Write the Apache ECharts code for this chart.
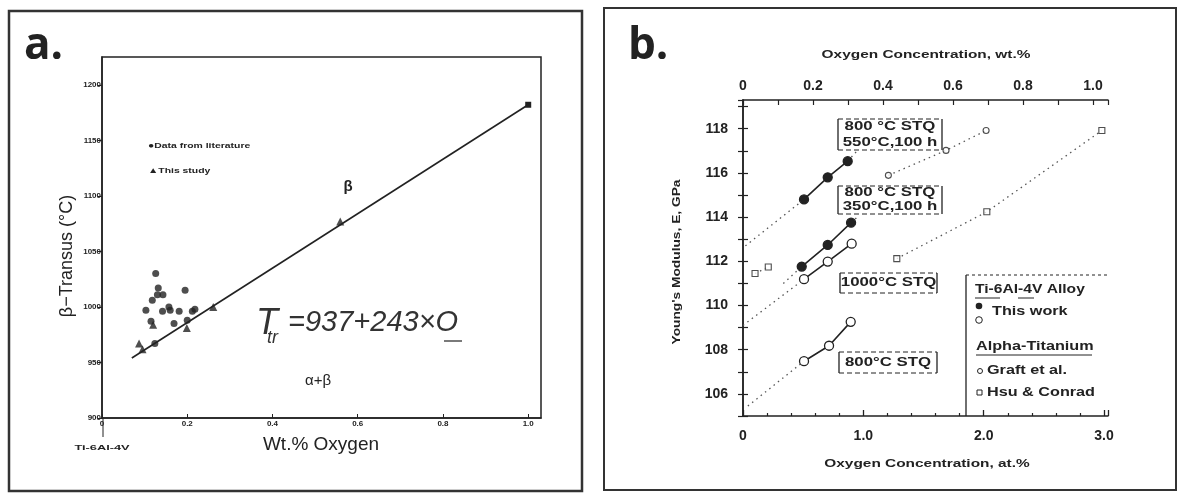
<!DOCTYPE html>
<html>
<head>
<meta charset="utf-8">
<script src="https://cdn.jsdelivr.net/npm/echarts@6/dist/echarts.min.js"></script>
<style>
  html, body { margin: 0; padding: 0; background: #fff; }
  #chart { width: 1179px; height: 494px; }
</style>
</head>
<body>
<div id="chart"></div>
<script>
// ---- panel a: beta transus vs wt.% oxygen ----
var litPoints = [[0.126,1030],[0.132,1017],[0.130,1011],[0.143,1011],[0.118,1006],[0.195,1015],
  [0.103,997],[0.142,996],[0.157,1000],[0.160,997],[0.181,996],[0.218,998],[0.212,996],
  [0.169,985],[0.200,988],[0.124,967],[0.115,987]];
var studyPoints = [[0.120,984],[0.199,981],[0.261,1000],[0.087,967],[0.095,962],[0.559,1077]];
var fitLine = [[0.07,954],[1.0,1182]];
var aXLabels = ['0','0.2','0.4','0.6','0.8','1.0'];
var aYLabels = ['900','950','1000','1050','1100','1150','1200'];

// ---- panel b: Young's modulus vs oxygen (at.%) ----
var b550 = [[0.507,114.80],[0.704,115.80],[0.870,116.53]];
var b350 = [[0.488,111.76],[0.704,112.74],[0.898,113.75]];
var b1000 = [[0.507,111.19],[0.704,111.99],[0.903,112.80]];
var b800 = [[0.507,107.48],[0.715,108.18],[0.895,109.26]];
var graft = [[1.208,115.89],[1.687,117.02],[2.020,117.92]];
var hsuLow = [[0.100,111.45],[0.210,111.74]];
var hsuHigh = [[1.278,112.12],[2.026,114.24],[2.982,117.92]];
// dotted guide lines
var guide550 = [[0.02,112.7],[0.507,114.80]];
var ext550 = [[0.870,116.53],[0.945,116.98]];
var guide350 = [[0.335,111.0],[0.488,111.76]];
var ext350 = [[0.898,113.75],[0.959,114.04]];
var guide1000 = [[0.0,109.1],[0.507,111.19]];
var guide800 = [[0.04,105.45],[0.507,107.48]];
var bBottomLabels = ['0','1.0','2.0','3.0'];
var bTopLabels = ['0','0.2','0.4','0.6','0.8','1.0'];
var bYLabels = {106:'106',108:'108',110:'110',112:'112',114:'114',116:'116',118:'118'};

var ink = '#222';
var sans = '"Liberation Sans", Arial, sans-serif';

function pick(arr, v, step) {
  var i = Math.round(v / step);
  return Math.abs(v - i * step) < 1e-6 ? (arr[i] || '') : '';
}

function txt(x, y, s, font, o) {
  o = o || {};
  return {
    type: 'text', x: x, y: y, rotation: o.rotation || 0, scaleX: o.scaleX || 1, z: 10,
    style: { text: s, font: font, fill: o.fill || ink, align: o.align || 'left', verticalAlign: o.va || 'middle' }
  };
}
function seg(x1, y1, x2, y2, w, dash) {
  return { type: 'line', z: 10, shape: { x1: x1, y1: y1, x2: x2, y2: y2 },
    style: { stroke: ink, lineWidth: w || 1, lineDash: dash || null } };
}
// dashed top/bottom, solid brackets at the sides
function boxLabel(x1, y1, x2, y2, lines) {
  var out = [
    seg(x1, y1, x2, y1, 1, [5, 3]), seg(x1, y2, x2, y2, 1, [5, 3]),
    seg(x1, y1, x1, y2, 1.3), seg(x2, y1, x2, y2, 1.3)
  ];
  var h = (y2 - y1) / lines.length;
  lines.forEach(function (s, i) {
    out.push(txt((x1 + x2) / 2, y1 + h * (i + 0.5), s, 'bold 12px ' + sans, { align: 'center', scaleX: 1.4 }));
  });
  return out;
}

function dotted(data) {
  return { type: 'line', xAxisIndex: 1, yAxisIndex: 1, data: data, symbol: 'none', silent: true, z: 2,
    lineStyle: { color: '#555', width: 1.3, type: [1.5, 4] } };
}
function linked(data, filled) {
  return { type: 'line', xAxisIndex: 1, yAxisIndex: 1, data: data, symbol: 'circle', symbolSize: 9, z: 3,
    itemStyle: { color: filled ? ink : '#fff', borderColor: ink, borderWidth: 1.3 },
    lineStyle: { color: ink, width: 1.6 } };
}
function small(data, symbol) {
  return { type: 'scatter', xAxisIndex: 1, yAxisIndex: 1, data: data, symbol: symbol, symbolSize: 6, z: 3,
    itemStyle: { color: '#fff', borderColor: ink, borderWidth: 1.1 } };
}

var graphics = [
  // panel frames
  { type: 'rect', shape: { x: 9, y: 11, width: 573, height: 480 }, style: { fill: 'none', stroke: '#333', lineWidth: 2.5 } },
  { type: 'rect', shape: { x: 604, y: 8, width: 572, height: 482 }, style: { fill: 'none', stroke: '#333', lineWidth: 2 } },
  txt(24, 46, 'a.', 'bold 44px "Open Sans", sans-serif'),
  txt(628, 46, 'b.', 'bold 44px "Open Sans", sans-serif'),
  // panel a texts
  txt(67, 256, 'β−Transus (°C)', '18px ' + sans, { align: 'center', rotation: Math.PI / 2 }),
  txt(321, 445, 'Wt.% Oxygen', '19px ' + sans, { align: 'center' }),
  seg(103, 418, 103, 437, 1),
  txt(102, 448, 'Ti-6Al-4V', 'bold 8px ' + sans, { align: 'center', scaleX: 1.6 }),
  txt(148, 146, '●Data from literature', 'bold 8px ' + sans, { scaleX: 1.3 }),
  txt(148, 171, '▲This study', 'bold 8px ' + sans, { scaleX: 1.3 }),
  txt(348, 187, 'β', 'bold 15px ' + sans, { align: 'center' }),
  txt(256, 324, 'T', 'italic 36px ' + sans, { fill: '#333' }),
  txt(267, 338, 'tr', 'italic 18px ' + sans, { fill: '#333' }),
  txt(288, 323, '=937+243×O', 'italic 29px ' + sans, { fill: '#333' }),
  seg(444, 341, 462, 341, 1.2),
  txt(318, 381, 'α+β', '15px ' + sans, { align: 'center' }),
  // panel b axis titles
  txt(926, 55, 'Oxygen Concentration, wt.%', 'bold 11px ' + sans, { align: 'center', scaleX: 1.4 }),
  txt(927, 464, 'Oxygen Concentration, at.%', 'bold 11px ' + sans, { align: 'center', scaleX: 1.4 }),
  txt(677, 262, "Young's Modulus, E, GPa", 'bold 11px ' + sans, { align: 'center', scaleX: 1.25, rotation: Math.PI / 2 }),
  // legend box of panel b
  seg(966, 275, 1108, 275, 1, [3, 3]),
  seg(966, 275, 966, 416, 1.3),
  txt(975, 290, 'Ti-6Al-4V Alloy', 'bold 12px ' + sans, { scaleX: 1.3 }),
  seg(975, 298, 1000, 298, 1), seg(1018, 298, 1034, 298, 1),
  { type: 'circle', z: 10, shape: { cx: 979, cy: 306, r: 3.3 }, style: { fill: ink } },
  { type: 'circle', z: 10, shape: { cx: 979, cy: 320, r: 3.3 }, style: { fill: '#fff', stroke: ink, lineWidth: 1 } },
  txt(992, 312, 'This work', 'bold 12px ' + sans, { scaleX: 1.35 }),
  txt(976, 347, 'Alpha-Titanium', 'bold 12px ' + sans, { scaleX: 1.35 }),
  seg(976, 355, 1092, 355, 1),
  { type: 'circle', z: 10, shape: { cx: 980, cy: 371, r: 2.5 }, style: { fill: '#fff', stroke: ink, lineWidth: 1 } },
  txt(987, 371, 'Graft et al.', 'bold 12px ' + sans, { scaleX: 1.35 }),
  { type: 'rect', z: 10, shape: { x: 977, y: 390, width: 5, height: 5 }, style: { fill: '#fff', stroke: ink, lineWidth: 1 } },
  txt(987, 393, 'Hsu & Conrad', 'bold 12px ' + sans, { scaleX: 1.35 })
]
.concat(boxLabel(838, 119, 942, 150, ['800 °C STQ', '550°C,100 h']))
.concat(boxLabel(838, 186, 942, 214, ['800 °C STQ', '350°C,100 h']))
.concat(boxLabel(840, 273, 937, 293, ['1000°C STQ']))
.concat(boxLabel(839, 352, 937, 373, ['800°C STQ']));

var axisLineStyle = { lineStyle: { color: ink, width: 1.5 } };

var option = {
  animation: false,
  backgroundColor: '#fff',
  grid: [
    { left: 102, top: 57, width: 439, height: 361, show: true, borderColor: ink, borderWidth: 1.5 },
    { left: 743, top: 100, width: 365, height: 316 }
  ],
  xAxis: [
    { type: 'value', gridIndex: 0, min: 0, max: 1.03, interval: 0.2, splitLine: { show: false },
      axisLine: axisLineStyle, axisTick: { inside: true, length: 4, lineStyle: { color: ink } },
      axisLabel: { margin: 2, fontSize: 8, fontWeight: 'bold', color: ink, fontFamily: sans, showMaxLabel: false,
        formatter: function (v) { return pick(aXLabels, v, 0.2); } } },
    { type: 'value', gridIndex: 1, position: 'bottom', min: 0, max: 3.033, interval: 1, splitLine: { show: false },
      axisLine: axisLineStyle, axisTick: { inside: true, length: 6, lineStyle: { color: ink, width: 1.3 } },
      minorTick: { show: true, splitNumber: 5, length: 3, lineStyle: { color: ink, width: 1.2 } },
      axisLabel: { margin: 13, fontSize: 14, fontWeight: 'bold', color: ink, fontFamily: sans, showMaxLabel: false,
        formatter: function (v) { return pick(bBottomLabels, v, 1); } } },
    { type: 'value', gridIndex: 1, position: 'top', min: 0, max: 1.043, interval: 0.2, splitLine: { show: false },
      axisLine: axisLineStyle, axisTick: { inside: true, length: 5, lineStyle: { color: ink, width: 1.2 } },
      minorTick: { show: true, splitNumber: 2, length: 5, lineStyle: { color: ink, width: 1.2 } },
      axisLabel: { margin: 7, fontSize: 14, fontWeight: 'bold', color: ink, fontFamily: sans, showMaxLabel: false,
        formatter: function (v) { return pick(bTopLabels, v, 0.2); } } }
  ],
  yAxis: [
    { type: 'value', gridIndex: 0, min: 900, max: 1225, interval: 50, splitLine: { show: false },
      axisLine: axisLineStyle, axisTick: { inside: false, length: 4, lineStyle: { color: ink } },
      axisLabel: { margin: 1, fontSize: 8, fontWeight: 'bold', color: ink, fontFamily: sans, showMaxLabel: false,
        formatter: function (v) { return pick(aYLabels, v - 900, 50); } } },
    { type: 'value', gridIndex: 1, position: 'left', min: 105, max: 119.3, interval: 1, splitLine: { show: false },
      axisLine: axisLineStyle, axisTick: { inside: true, length: 5, lineStyle: { color: ink, width: 1.2 } },
      axisLabel: { margin: 15, fontSize: 14, fontWeight: 'bold', color: ink, fontFamily: sans, showMaxLabel: false,
        formatter: function (v) { return bYLabels[v] || ''; } } },
    { type: 'value', gridIndex: 1, position: 'right', min: 105, max: 119.3, interval: 1, splitLine: { show: false },
      axisLine: axisLineStyle, axisTick: { inside: true, length: 5, lineStyle: { color: ink, width: 1.2 } },
      axisLabel: { show: false } }
  ],
  series: [
    { type: 'line', xAxisIndex: 0, yAxisIndex: 0, data: [
        { value: fitLine[0], symbol: 'none' },
        { value: fitLine[1], symbol: 'rect', symbolSize: 6 }],
      showSymbol: true, itemStyle: { color: ink }, lineStyle: { color: ink, width: 1.6 }, z: 2 },
    { type: 'scatter', xAxisIndex: 0, yAxisIndex: 0, data: litPoints, symbol: 'circle', symbolSize: 7,
      itemStyle: { color: ink }, z: 3 },
    { type: 'scatter', xAxisIndex: 0, yAxisIndex: 0, data: studyPoints, symbol: 'triangle', symbolSize: 8,
      itemStyle: { color: ink }, z: 3 },
    dotted(guide550), dotted(ext550), dotted(guide350), dotted(ext350),
    dotted(guide1000), dotted(guide800),
    dotted(graft), dotted(hsuLow), dotted(hsuHigh),
    linked(b550, true), linked(b350, true), linked(b1000, false), linked(b800, false),
    small(graft, 'circle'), small(hsuLow, 'rect'), small(hsuHigh, 'rect')
  ],
  graphic: graphics
};

var chart = echarts.init(document.getElementById('chart'));
chart.setOption(option);
</script>
</body>
</html>
